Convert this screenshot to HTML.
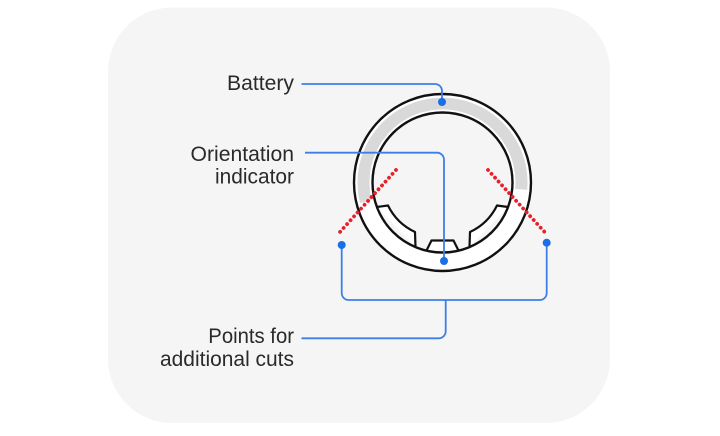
<!DOCTYPE html>
<html>
<head>
<meta charset="utf-8">
<style>
  html,body{margin:0;padding:0;background:#fff;}
  body{width:720px;height:436px;overflow:hidden;}
  svg{display:block;}
  text{font-family:"Liberation Sans",sans-serif;font-size:21px;fill:#2a2a2a;}
</style>
</head>
<body>
<svg width="720" height="436" viewBox="0 0 720 436" xmlns="http://www.w3.org/2000/svg">
  <rect x="108" y="7.5" width="502" height="415.5" rx="64" ry="64" fill="#f5f5f5"/>

  <!-- ring band white -->
  <path d="M 442.5 94 A 88.5 88.5 0 1 1 442.49 94 Z M 442.5 112.5 A 70 70 0 1 0 442.51 112.5 Z" fill="#ffffff" fill-rule="evenodd"/>
  <!-- gray battery band -->
  <path d="M 360.0 203.1 A 85 85 0 1 1 527.2 189.9 L 515.2 188.9 A 73 73 0 1 0 371.7 200.2 Z" fill="#d9d9d9"/>

  <!-- tabs -->
  <g fill="#ffffff" stroke="#111" stroke-width="2.2" stroke-linejoin="round">
    <path d="M 376.9 207 L 388 205.5 A 57 57 0 0 0 415 232 L 415.5 247"/>
    <path d="M 508.1 207 L 497 205.5 A 57 57 0 0 1 470 232 L 469.5 247"/>
    <path d="M 426.5 250.5 L 431.5 240.5 L 453.5 240.5 L 458.5 250.5"/>
  </g>

  <!-- ring outlines -->
  <circle cx="442.5" cy="182.5" r="88.5" fill="none" stroke="#111" stroke-width="2.4"/>
  <circle cx="442.5" cy="182.5" r="70" fill="none" stroke="#111" stroke-width="2.4"/>

  <!-- red dotted cut lines -->
  <g stroke="#e8202a" stroke-width="3.8" stroke-linecap="round" stroke-dasharray="0.01 5.2" fill="none">
    <line x1="396" y1="170" x2="339.5" y2="232.5"/>
    <line x1="488" y1="170" x2="545.5" y2="233"/>
  </g>

  <!-- blue connectors -->
  <g stroke="#3d7fe6" stroke-width="1.8" fill="none">
    <path d="M 301.5 84 H 435 A 7 7 0 0 1 442 91 V 102"/>
    <path d="M 305 152.7 H 437 A 7 7 0 0 1 444 159.7 V 261"/>
    <path d="M 341.7 245 V 293 A 7 7 0 0 0 348.7 300 H 539.7 A 7 7 0 0 0 546.7 293 V 243"/>
    <path d="M 445.7 300 V 331.3 A 7 7 0 0 1 438.7 338.3 H 301.5"/>
  </g>
  <g fill="#1a6ee6">
    <circle cx="442" cy="102" r="4"/>
    <circle cx="444" cy="261" r="4"/>
    <circle cx="341.7" cy="245" r="4"/>
    <circle cx="546.7" cy="242.7" r="4"/>
  </g>

  <!-- labels -->
  <text x="227" y="90" textLength="67" lengthAdjust="spacingAndGlyphs">Battery</text>
  <text x="190.5" y="161" textLength="103.5" lengthAdjust="spacingAndGlyphs">Orientation</text>
  <text x="215" y="183.5" textLength="79" lengthAdjust="spacingAndGlyphs">indicator</text>
  <text x="208.3" y="343" textLength="85.7" lengthAdjust="spacingAndGlyphs">Points for</text>
  <text x="160" y="366" textLength="134" lengthAdjust="spacingAndGlyphs">additional cuts</text>
</svg>
</body>
</html>
